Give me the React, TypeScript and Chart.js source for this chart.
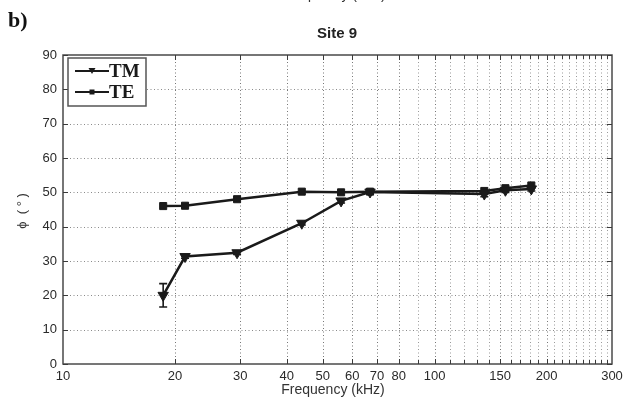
import React, { useEffect, useRef } from "react";
import { Chart, registerables } from "chart.js";

Chart.register(...registerables);

// ---- data ----
const frequencies = [18.6, 21.3, 29.4, 43.9, 56, 67, 136, 155, 182];
const tmPhase = [20.0, 31.3, 32.4, 41.0, 47.5, 50.1, 49.5, 50.6, 51.0];
const tmError = [3.4, 0.5, 0.5, 0.5, 0.6, 0.6, 0.8, 0.6, 0.6];
const tePhase = [46.0, 46.1, 48.0, 50.2, 50.0, 50.2, 50.4, 51.2, 52.0];
const xTickLabels = [10, 20, 30, 40, 50, 60, 70, 80, 100, 150, 200, 300];
const xGridValues = [
  20, 30, 40, 50, 60, 70, 80, 90, 100, 110, 120, 130, 140, 150, 160, 170, 180,
  190, 200, 210, 220, 230, 240, 250, 260, 270, 280, 290,
];
const yTicks = [0, 10, 20, 30, 40, 50, 60, 70, 80, 90];

const SANS = "'Liberation Sans', Arial, sans-serif";
const SERIF = "'Liberation Serif', 'Times New Roman', serif";

const decorPlugin = {
  id: "decor",
  beforeDatasetsDraw(chart: any) {
    const { ctx, chartArea: a, scales } = chart;
    const xs = scales.x;
    const ys = scales.y;
    ctx.save();
    ctx.lineWidth = 1;
    ctx.setLineDash([1, 2.5]);
    xGridValues.forEach((v) => {
      const major = xTickLabels.includes(v);
      const px = Math.round(xs.getPixelForValue(v)) + 0.5;
      ctx.strokeStyle = major ? "#777" : "#9a9a9a";
      ctx.beginPath();
      ctx.moveTo(px, a.top);
      ctx.lineTo(px, a.bottom);
      ctx.stroke();
    });
    yTicks.forEach((v) => {
      if (v === 0 || v === 90) return;
      const py = Math.round(ys.getPixelForValue(v)) + 0.5;
      ctx.strokeStyle = "#8a8a8a";
      ctx.beginPath();
      ctx.moveTo(a.left, py);
      ctx.lineTo(a.right, py);
      ctx.stroke();
    });
    ctx.setLineDash([]);
    ctx.strokeStyle = "#1a1a1a";
    ctx.lineWidth = 1.6;
    frequencies.forEach((f, i) => {
      const px = xs.getPixelForValue(f);
      const yLo = ys.getPixelForValue(tmPhase[i] - tmError[i]);
      const yHi = ys.getPixelForValue(tmPhase[i] + tmError[i]);
      ctx.beginPath();
      ctx.moveTo(px, yLo);
      ctx.lineTo(px, yHi);
      ctx.moveTo(px - 4, yLo);
      ctx.lineTo(px + 4, yLo);
      ctx.moveTo(px - 4, yHi);
      ctx.lineTo(px + 4, yHi);
      ctx.stroke();
    });
    ctx.restore();
  },
  afterDraw(chart: any) {
    const { ctx, chartArea: a, scales } = chart;
    const xs = scales.x;
    const ys = scales.y;
    ctx.save();
    ctx.strokeStyle = "#4a4a4a";
    ctx.lineWidth = 1.5;
    ctx.strokeRect(a.left, a.top, a.right - a.left, a.bottom - a.top);
    ctx.lineWidth = 1;
    ctx.strokeStyle = "#3a3a3a";
    xGridValues.forEach((v) => {
      const px = Math.round(xs.getPixelForValue(v)) + 0.5;
      const len = xTickLabels.includes(v) ? 5 : 4;
      ctx.beginPath();
      ctx.moveTo(px, a.bottom);
      ctx.lineTo(px, a.bottom - len);
      ctx.moveTo(px, a.top);
      ctx.lineTo(px, a.top + len);
      ctx.stroke();
    });
    yTicks.forEach((v) => {
      const py = Math.round(ys.getPixelForValue(v)) + 0.5;
      ctx.beginPath();
      ctx.moveTo(a.left, py);
      ctx.lineTo(a.left + 5, py);
      ctx.moveTo(a.right, py);
      ctx.lineTo(a.right - 5, py);
      ctx.stroke();
    });

    // legend
    const lx = 68, ly = 58, lw = 78, lh = 48;
    ctx.fillStyle = "#ffffff";
    ctx.fillRect(lx, ly, lw, lh);
    ctx.strokeStyle = "#555";
    ctx.lineWidth = 1.5;
    ctx.strokeRect(lx, ly, lw, lh);
    const entries = [
      { label: "TM", y: 71, style: "tri" },
      { label: "TE", y: 92, style: "sq" },
    ];
    entries.forEach((e) => {
      ctx.strokeStyle = "#1a1a1a";
      ctx.lineWidth = 2;
      ctx.beginPath();
      ctx.moveTo(75, e.y);
      ctx.lineTo(109, e.y);
      ctx.stroke();
      ctx.fillStyle = "#1a1a1a";
      if (e.style === "tri") {
        ctx.beginPath();
        ctx.moveTo(88.5, e.y - 3);
        ctx.lineTo(95.5, e.y - 3);
        ctx.lineTo(92, e.y + 3);
        ctx.closePath();
        ctx.fill();
      } else {
        ctx.fillRect(89.5, e.y - 2.5, 5, 5);
      }
      ctx.fillStyle = "#1a1a1a";
      ctx.font = `bold 19px ${SERIF}`;
      ctx.textAlign = "left";
      ctx.textBaseline = "middle";
      ctx.fillText(e.label, 109, e.y + 1);
    });

    // texts
    ctx.fillStyle = "#111";
    ctx.font = `bold 22px ${SERIF}`;
    ctx.textAlign = "left";
    ctx.textBaseline = "alphabetic";
    ctx.fillText("b)", 8, 27);

    ctx.fillStyle = "#333";
    ctx.font = `14px ${SANS}`;
    ctx.textAlign = "center";
    ctx.fillText("Frequency (kHz)", 334, -1);

    ctx.fillStyle = "#222";
    ctx.font = `bold 15px ${SANS}`;
    ctx.textBaseline = "middle";
    ctx.fillText("Site 9", 337, 34);

    ctx.fillStyle = "#333";
    ctx.font = `14px ${SANS}`;
    ctx.fillText("Frequency (kHz)", 333, 390);

    ctx.save();
    ctx.translate(22, 211);
    ctx.rotate(-Math.PI / 2);
    ctx.font = `13px ${SANS}`;
    ctx.fillText("\u03d5  ( \u00b0 )", 0, 0);
    ctx.restore();

    ctx.restore();
  },
};

export default function App() {
  const ref = useRef<HTMLCanvasElement | null>(null);

  useEffect(() => {
    document.body.style.margin = "0";
    const canvas = ref.current;
    if (!canvas) return;
    const chart = new Chart(canvas, {
      type: "line",
      data: {
        datasets: [
          {
            label: "TM",
            data: frequencies.map((f, i) => ({ x: f, y: tmPhase[i] })),
            borderColor: "#1a1a1a",
            backgroundColor: "#1a1a1a",
            borderWidth: 2.5,
            pointStyle: "triangle",
            pointRotation: 180,
            pointRadius: 6,
            pointBorderWidth: 1,
            tension: 0,
          },
          {
            label: "TE",
            data: frequencies.map((f, i) => ({ x: f, y: tePhase[i] })),
            borderColor: "#1a1a1a",
            backgroundColor: "#1a1a1a",
            borderWidth: 2.5,
            pointStyle: "rect",
            pointRadius: 5,
            pointBorderWidth: 1,
            tension: 0,
          },
        ],
      },
      options: {
        responsive: false,
        animation: false,
        devicePixelRatio: 1,
        layout: { padding: { top: 55, right: 11, left: 0, bottom: 0 } },
        plugins: {
          legend: { display: false },
          tooltip: { enabled: false },
          title: { display: false },
        },
        scales: {
          x: {
            type: "logarithmic",
            min: 10,
            max: 300,
            afterBuildTicks: (scale: any) => {
              scale.ticks = xTickLabels.map((v) => ({ value: v }));
            },
            afterFit: (scale: any) => {
              scale.height = 40;
              scale.paddingLeft = 0;
              scale.paddingRight = 0;
            },
            ticks: {
              autoSkip: false,
              maxRotation: 0,
              minRotation: 0,
              padding: 5,
              color: "#2a2a2a",
              font: { family: SANS, size: 13 },
              callback: (v: any) => String(v),
            },
            grid: { display: false, drawTicks: false },
            border: { display: false },
          },
          y: {
            min: 0,
            max: 90,
            afterBuildTicks: (scale: any) => {
              scale.ticks = yTicks.map((v) => ({ value: v }));
            },
            afterFit: (scale: any) => {
              scale.width = 63;
              scale.paddingTop = 0;
              scale.paddingBottom = 0;
            },
            ticks: {
              padding: 6,
              color: "#2a2a2a",
              font: { family: SANS, size: 13 },
            },
            grid: { display: false, drawTicks: false },
            border: { display: false },
          },
        },
      },
      plugins: [decorPlugin],
    } as any);
    return () => chart.destroy();
  }, []);

  return (
    <div style={{ position: "absolute", left: 0, top: 0, width: 623, height: 404, background: "#fff" }}>
      <canvas ref={ref} width={623} height={404} style={{ display: "block" }} />
    </div>
  );
}
